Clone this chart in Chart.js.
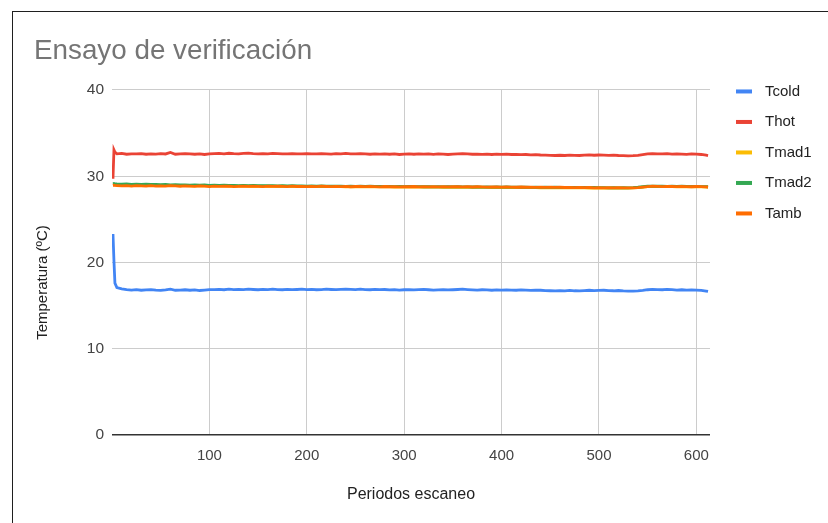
<!DOCTYPE html>
<html>
<head>
<meta charset="utf-8">
<title>Ensayo de verificación</title>
<script src="https://cdn.jsdelivr.net/npm/chart.js@4.4.1/dist/chart.umd.min.js"></script>
<style>
  html, body { margin: 0; padding: 0; background: #ffffff; overflow: hidden; }
  #wrap { position: relative; width: 828px; height: 523px; overflow: hidden; }
  #frame { position: absolute; left: 12px; top: 11px; width: 900px; height: 600px;
           border: 1px solid #1f1f1f; box-sizing: border-box; pointer-events: none; }
  canvas { position: absolute; left: 0; top: 0; }
</style>
</head>
<body>
<div id="wrap">
  <canvas id="chart" width="828" height="523"></canvas>
  <div id="frame"></div>
</div>
<script>
// Scan periods (x values)
const periods = [
  1, 2, 3,
  5, 10, 15, 20, 25, 30, 35, 40, 45, 50,
  55, 60, 65, 70, 75, 80, 85, 90, 95, 100,
  105, 110, 115, 120, 125, 130, 135, 140, 145, 150,
  155, 160, 165, 170, 175, 180, 185, 190, 195, 200,
  205, 210, 215, 220, 225, 230, 235, 240, 245, 250,
  255, 260, 265, 270, 275, 280, 285, 290, 295, 300,
  305, 310, 315, 320, 325, 330, 335, 340, 345, 350,
  355, 360, 365, 370, 375, 380, 385, 390, 395, 400,
  405, 410, 415, 420, 425, 430, 435, 440, 445, 450,
  455, 460, 465, 470, 475, 480, 485, 490, 495, 500,
  505, 510, 515, 520, 525, 530, 535, 540, 545, 550,
  555, 560, 565, 570, 575, 580, 585, 590, 595, 600,
  605, 610, 612
];

// Temperatures (ºC) per sensor
const tcold = [
  23.3, 20.2, 17.6,
  17.1, 16.95, 16.85, 16.8, 16.85, 16.78, 16.82, 16.86, 16.8, 16.76,
  16.82, 16.9, 16.78, 16.8, 16.84, 16.78, 16.82, 16.75, 16.8, 16.86,
  16.85, 16.88, 16.84, 16.9, 16.86, 16.88, 16.85, 16.9, 16.87, 16.84,
  16.88, 16.85, 16.9, 16.86, 16.84, 16.88, 16.85, 16.87, 16.9, 16.86,
  16.88, 16.84, 16.86, 16.9, 16.87, 16.85, 16.88, 16.92, 16.88, 16.85,
  16.9, 16.86, 16.84, 16.88, 16.85, 16.87, 16.83, 16.86, 16.8, 16.84,
  16.86, 16.82, 16.85, 16.88, 16.84, 16.8, 16.83, 16.86, 16.82, 16.84,
  16.87, 16.9, 16.86, 16.83, 16.8, 16.84, 16.82, 16.78, 16.82, 16.8,
  16.83, 16.8, 16.78, 16.82, 16.79, 16.76, 16.8, 16.78, 16.74, 16.72,
  16.7, 16.73, 16.7, 16.76, 16.72, 16.7, 16.74, 16.78, 16.73, 16.76,
  16.78, 16.74, 16.72, 16.75, 16.7, 16.68, 16.67, 16.7, 16.76, 16.84,
  16.88, 16.86, 16.84, 16.88, 16.85, 16.8, 16.84, 16.79, 16.82, 16.8,
  16.76, 16.68, 16.64
];

const thot = [
  29.7, 33.05, 32.8,
  32.6, 32.65, 32.55, 32.6, 32.58, 32.62, 32.55, 32.6, 32.57, 32.63,
  32.58, 32.75, 32.55, 32.6, 32.62, 32.58, 32.55, 32.6, 32.52, 32.58,
  32.62, 32.65, 32.6, 32.66, 32.62, 32.6, 32.64, 32.67, 32.62, 32.6,
  32.63, 32.6, 32.65, 32.62, 32.58, 32.6, 32.63, 32.6, 32.58, 32.62,
  32.6, 32.58, 32.62, 32.6, 32.57, 32.62, 32.6, 32.64, 32.58, 32.6,
  32.62, 32.58, 32.55, 32.6, 32.57, 32.6, 32.55, 32.58, 32.52, 32.56,
  32.58, 32.55, 32.6, 32.56, 32.58, 32.54, 32.58, 32.55, 32.52, 32.56,
  32.6, 32.62, 32.58, 32.55, 32.57, 32.54, 32.56, 32.52, 32.55, 32.53,
  32.55, 32.52, 32.54, 32.5, 32.52, 32.48, 32.5, 32.46, 32.44, 32.42,
  32.4, 32.43, 32.4, 32.45, 32.42, 32.4, 32.44, 32.48, 32.43, 32.46,
  32.45, 32.42, 32.44, 32.4, 32.38, 32.36, 32.38, 32.42, 32.5, 32.58,
  32.62, 32.6, 32.58, 32.62, 32.56, 32.6, 32.57, 32.54, 32.58, 32.56,
  32.52, 32.45, 32.4
];

const tmad1 = [
  29.0, 29.02, 29.0,
  29.0, 28.98, 28.99, 28.96, 28.97, 28.95, 28.96, 28.94, 28.95, 28.93,
  28.94, 28.92, 28.93, 28.9, 28.92, 28.89, 28.91, 28.88, 28.9, 28.87,
  28.89, 28.87, 28.88, 28.86, 28.87, 28.85, 28.87, 28.84, 28.86, 28.84,
  28.85, 28.83, 28.85, 28.82, 28.84, 28.82, 28.83, 28.81, 28.83, 28.8,
  28.82, 28.8, 28.82, 28.79, 28.81, 28.79, 28.8, 28.78, 28.8, 28.78,
  28.79, 28.77, 28.79, 28.76, 28.78, 28.76, 28.77, 28.75, 28.77, 28.75,
  28.76, 28.74, 28.76, 28.73, 28.75, 28.73, 28.74, 28.72, 28.74, 28.72,
  28.73, 28.71, 28.73, 28.7, 28.72, 28.7, 28.71, 28.69, 28.71, 28.69,
  28.7, 28.68, 28.7, 28.67, 28.69, 28.67, 28.68, 28.66, 28.68, 28.66,
  28.67, 28.65, 28.67, 28.64, 28.66, 28.64, 28.65, 28.63, 28.65, 28.63,
  28.64, 28.62, 28.64, 28.62, 28.63, 28.62, 28.64, 28.68, 28.74, 28.8,
  28.82, 28.8, 28.81, 28.79, 28.8, 28.78, 28.8, 28.78, 28.79, 28.77,
  28.77, 28.75, 28.74
];

const tmad2 = [
  29.12, 29.15, 29.12,
  29.1, 29.08, 29.1, 29.06, 29.08, 29.05, 29.07, 29.04, 29.06, 29.02,
  29.04, 29.0, 29.02, 28.98, 29.0, 28.97, 28.99, 28.96, 28.98, 28.95,
  28.97, 28.94, 28.96, 28.93, 28.95, 28.92, 28.94, 28.91, 28.93, 28.9,
  28.92, 28.9, 28.91, 28.89, 28.9, 28.88, 28.9, 28.87, 28.89, 28.86,
  28.88, 28.86, 28.87, 28.85, 28.86, 28.84, 28.86, 28.83, 28.85, 28.83,
  28.84, 28.82, 28.84, 28.81, 28.83, 28.8, 28.82, 28.8, 28.81, 28.79,
  28.81, 28.79, 28.8, 28.78, 28.8, 28.77, 28.79, 28.77, 28.78, 28.76,
  28.78, 28.76, 28.77, 28.75, 28.76, 28.74, 28.76, 28.74, 28.75, 28.73,
  28.75, 28.73, 28.74, 28.72, 28.73, 28.71, 28.73, 28.71, 28.72, 28.7,
  28.72, 28.7, 28.71, 28.69, 28.7, 28.68, 28.7, 28.68, 28.69, 28.67,
  28.68, 28.66, 28.67, 28.65, 28.67, 28.66, 28.68, 28.72, 28.78, 28.84,
  28.86, 28.84, 28.85, 28.83, 28.84, 28.82, 28.84, 28.82, 28.83, 28.81,
  28.8, 28.79, 28.78
];

const tamb = [
  28.92, 28.95, 28.93,
  28.92, 28.88, 28.9, 28.86, 28.9, 28.87, 28.85, 28.9, 28.86, 28.88,
  28.85, 28.9, 28.87, 28.84, 28.88, 28.86, 28.83, 28.87, 28.84, 28.8,
  28.85, 28.82, 28.86, 28.84, 28.8, 28.83, 28.86, 28.82, 28.85, 28.83,
  28.8, 28.84, 28.82, 28.86, 28.83, 28.8, 28.84, 28.81, 28.83, 28.8,
  28.83, 28.8, 28.84, 28.81, 28.79, 28.83, 28.8, 28.82, 28.78, 28.81,
  28.83, 28.79, 28.82, 28.8, 28.77, 28.81, 28.78, 28.8, 28.76, 28.8,
  28.78, 28.81, 28.77, 28.8, 28.76, 28.79, 28.77, 28.8, 28.76, 28.78,
  28.8, 28.77, 28.79, 28.75, 28.78, 28.76, 28.74, 28.77, 28.75, 28.73,
  28.76, 28.74, 28.72, 28.75, 28.72, 28.74, 28.71, 28.73, 28.7, 28.72,
  28.7, 28.72, 28.69, 28.71, 28.68, 28.7, 28.67, 28.69, 28.66, 28.68,
  28.66, 28.68, 28.65, 28.67, 28.64, 28.66, 28.65, 28.68, 28.74, 28.8,
  28.84, 28.82, 28.8, 28.83, 28.81, 28.79, 28.82, 28.8, 28.78, 28.81,
  28.79, 28.76, 28.75
];

const seriesNames = ['Tcold', 'Thot', 'Tmad1', 'Tmad2', 'Tamb'];
const seriesColors = ['#4285f4', '#ea4335', '#fbbc04', '#34a853', '#ff6d01'];
const seriesValues = [tcold, thot, tmad1, tmad2, tamb];

const yTicks = [0, 10, 20, 30, 40];
const xTicks = [100, 200, 300, 400, 500, 600];
const yAxisTitle = 'Temperatura (ºC)';

const FONT = 'Arial, "Liberation Sans", sans-serif';
Chart.defaults.font.family = FONT;

// Right-hand legend (thick line swatch + series name) and the rotated y-axis title
const sideKey = {
  id: 'sideKey',
  afterDraw(chart) {
    const { ctx, chartArea } = chart;
    ctx.save();
    ctx.font = '15px ' + FONT;
    ctx.textBaseline = 'middle';
    ctx.textAlign = 'left';
    chart.data.datasets.forEach((ds, i) => {
      const y = chartArea.top + 1.5 + i * 30.5;
      ctx.fillStyle = ds.borderColor;
      ctx.fillRect(chartArea.right + 26, y - 2, 16, 4);
      ctx.fillStyle = '#222222';
      ctx.fillText(ds.label, chartArea.right + 55, y);
    });
    ctx.restore();

    ctx.save();
    ctx.font = '15px ' + FONT;
    ctx.fillStyle = '#222222';
    ctx.textAlign = 'center';
    ctx.textBaseline = 'middle';
    ctx.translate(43, (chartArea.top + chartArea.bottom) / 2 + 20);
    ctx.rotate(-Math.PI / 2);
    ctx.fillText(yAxisTitle, 0, 0);
    ctx.restore();
  }
};

const datasets = seriesNames.map((name, i) => ({
  label: name,
  data: periods.map((p, k) => ({ x: p, y: seriesValues[i][k] })),
  borderColor: seriesColors[i],
  backgroundColor: seriesColors[i],
  borderWidth: 2.8,
  pointRadius: 0,
  tension: 0,
  fill: false,
  order: seriesNames.length - i
}));

new Chart(document.getElementById('chart'), {
  type: 'line',
  data: { datasets },
  plugins: [sideKey],
  options: {
    responsive: false,
    animation: false,
    events: [],
    layout: { padding: { left: 34, right: 118, top: 0, bottom: 0 } },
    plugins: {
      legend: { display: false },
      tooltip: { enabled: false },
      title: {
        display: true,
        text: 'Ensayo de verificación',
        align: 'start',
        color: '#757575',
        font: { size: 27.8, weight: 'normal', family: FONT },
        padding: { top: 34.5, bottom: 22.1 }
      }
    },
    scales: {
      x: {
        type: 'linear',
        min: 0,
        max: 614,
        afterFit(scale) { scale.height = 88; },
        afterBuildTicks(scale) { scale.ticks = [{ value: 0 }].concat(xTicks.map(v => ({ value: v }))); },
        border: { display: false },
        grid: {
          drawTicks: false,
          color: c => (c.tick && c.tick.value === 0) ? 'rgba(0,0,0,0)' : '#cccccc',
          lineWidth: 1
        },
        ticks: {
          color: '#444444',
          font: { size: 15 },
          padding: 12,
          maxRotation: 0,
          callback: v => (v === 0 ? '' : v)
        },
        title: {
          display: true,
          text: 'Periodos escaneo',
          color: '#222222',
          font: { size: 16 },
          padding: { top: 0, bottom: 19 }
        }
      },
      y: {
        min: 0,
        max: 40,
        afterFit(scale) { scale.width = 78; },
        afterBuildTicks(scale) { scale.ticks = yTicks.map(v => ({ value: v })); },
        border: { display: false },
        grid: {
          drawTicks: false,
          color: c => (c.tick && c.tick.value === 0) ? '#333333' : '#cccccc',
          lineWidth: c => (c.tick && c.tick.value === 0) ? 1.6 : 1
        },
        ticks: {
          color: '#444444',
          font: { size: 15.5 },
          padding: 8
        },
        title: { display: false }
      }
    }
  }
});
</script>
</body>
</html>
